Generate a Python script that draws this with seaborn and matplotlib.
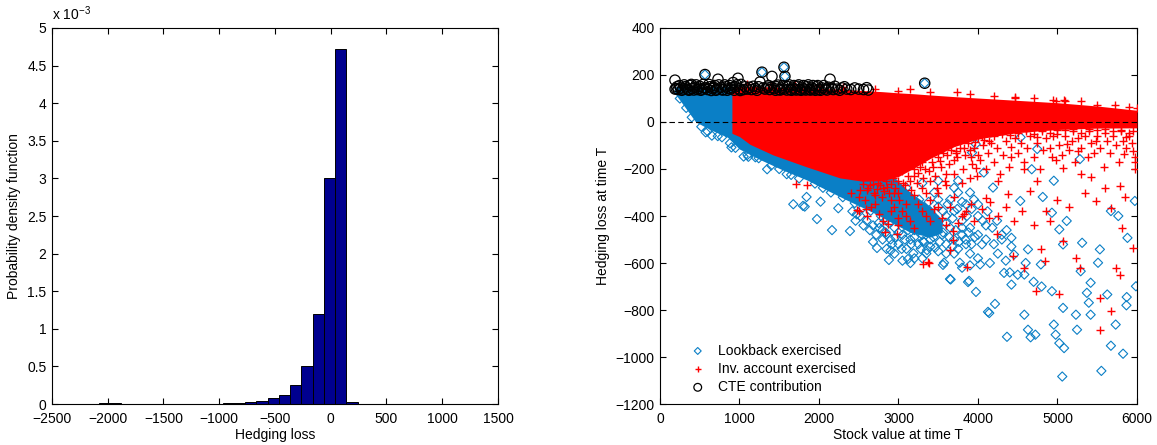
import numpy as np
import matplotlib
matplotlib.use("Agg")
import matplotlib.pyplot as plt
import seaborn as sns
from matplotlib.ticker import FuncFormatter, MultipleLocator

# ---------------- left panel: hedging loss histogram ----------------
bin_edges = [-2081, -1980, -1879, -1778, -1677, -1576, -1475, -1374, -1273,
             -1172, -1071, -970, -869, -768, -667, -566, -465, -364, -263,
             -162, -61, 40, 141, 242, 343, 444, 545, 646, 747, 848, 949,
             1050, 1151, 1252, 1353]
# density per bin, in units of 1e-3
density_e3 = [0.010, 0.010, 0.002, 0.002, 0.006, 0.006, 0.006, 0.006, 0.006,
              0.006, 0.006, 0.008, 0.010, 0.030, 0.044, 0.080, 0.124, 0.257,
              0.506, 1.198, 3.010, 4.727, 0.030, 0.005, 0.004, 0.004, 0.003,
              0.003, 0.003, 0.002, 0.002, 0.002, 0.002, 0.002]

# ---------------- right panel: hedging loss vs stock value ----------------
# dense core of the lookback-exercised paths (lower / upper envelope)
lookback_band_x = [180, 300, 450, 650, 850, 1000, 1260, 1550, 1850, 2100,
                   2350, 2680, 2900, 3150, 3400, 3550]
lookback_band_lo = [125, 70, 0, -35, -65, -115, -160, -205, -247, -290,
                    -332, -385, -425, -470, -490, -470]
lookback_band_hi = [150, 152, 152, 152, 152, 150, 140, 120, 80, 20,
                    -60, -150, -220, -300, -360, -420]

# dense core of the investment-account-exercised paths
invacct_band_x = [905, 1000, 1132, 1422, 1837, 2264, 2550, 2800, 3000, 3200,
                  3400, 3700, 4000, 4500, 5000, 5500, 6000]
invacct_band_lo = [-48, -62, -95, -140, -190, -238, -252, -250, -232, -195,
                   -155, -105, -72, -45, -32, -26, -25]
invacct_band_hi = [150, 152, 152, 149, 145, 140, 134, 129, 124, 120,
                   115, 108, 102, 92, 82, 68, 50]

# individual lookback-exercised paths outside the dense core
lookback_pts = [
    (250, 100), (330, 60), (400, 20), (520, -20), (575, -44), (600, -40),
    (653, -58), (727, -60), (780, -65), (880, -90), (899, -108), (950, -110),
    (1052, -147), (1100, -140), (1112, -148), (1200, -150), (1242, -154),
    (1348, -201), (1400, -185), (1500, -200), (1594, -222), (1650, -225),
    (1677, -350), (1750, -240), (1799, -357), (1821, -360), (1844, -319),
    (1950, -262), (1975, -413), (2020, -339), (2050, -280), (2150, -300),
    (2164, -460), (2243, -367), (2300, -320), (2390, -464), (2450, -345),
    (2475, -393), (2550, -365), (2650, -378), (2680, -510), (2730, -536),
    (2780, -400), (2850, -415), (2880, -587), (2901, -547), (3120, -583),
    (3188, -559), (3308, -507), (3359, -545), (3461, -535), (3560, -608),
    (3573, -599), (3648, -668), (3656, -670), (3772, -599), (3875, -681),
    (3888, -676), (3975, -723), (4027, -606), (4050, -521), (4126, -808),
    (4142, -813), (4214, -774), (4328, -642), (4365, -914), (4421, -692),
    (4453, -564), (4421, -493), (4583, -649), (4583, -820), (4629, -884),
    (4662, -916), (4722, -905), (4629, -542), (4791, -606), (4930, -720),
    (4954, -862), (4977, -905), (5023, -941), (5060, -1083), (5083, -962),
    (5070, -791), (5023, -457), (5070, -521), (4954, -250), (5116, -421),
    (5232, -820), (5246, -884), (5292, -635), (5310, -514), (5370, -727),
    (5394, -769), (5417, -820), (5417, -684), (5510, -599), (5552, -1059),
    (5533, -542), (5626, -734), (5672, -952), (5732, -862), (5765, -400),
    (5825, -986), (5871, -745), (5867, -780), (5987, -699), (5973, -336),
    (5880, -493), (4815, -319), (4930, -386), (4532, -336), (4073, -215),
    (4189, -279), (3926, -130), (3972, -94), (4161, -44), (4745, -115),
    (4676, -201), (4536, -65), (5282, -158), (5672, -379),
    (2750, -430), (2800, -460), (2850, -480), (2900, -500), (2950, -450),
    (3000, -520), (3050, -480), (3100, -540), (3150, -500), (3200, -460),
    (3250, -520), (3300, -480), (3350, -440), (3400, -500), (3450, -460),
    (3500, -420), (3550, -480), (3600, -520), (3650, -450), (3700, -500),
    (3750, -540), (3800, -480), (3850, -520), (3900, -560), (3000, -400),
    (3100, -430), (3200, -400), (3300, -420), (3400, -380), (3500, -360),
    (3600, -400), (3700, -380), (3800, -420), (3900, -450), (4000, -480),
    (4100, -500), (4200, -520), (4300, -480), (4000, -400), (4100, -440),
    (3650, -330), (3750, -300), (3850, -350), (3950, -330), (2950, -560),
    (3050, -590), (3200, -580), (3350, -560), (3500, -550), (3600, -560),
    (3700, -560), (3800, -620), (3900, -610), (4000, -580), (4150, -600),
    (4250, -560), (4350, -590), (4400, -640), (4500, -650), (4600, -600),
    (4700, -680), (4800, -700), (2850, -540), (3150, -600), (3300, -580),
    (2420, -380), (2460, -420), (2520, -400), (2560, -440), (2600, -420),
    (2640, -460), (2680, -440), (2720, -480), (2760, -450), (2800, -500),
    (2840, -470), (2880, -430), (2920, -520), (2960, -490), (3000, -470),
    (3040, -540), (3080, -500), (3120, -460), (3160, -520), (3200, -490),
    (3240, -440), (3280, -540), (3320, -510), (3360, -470), (3400, -530),
    (3440, -490), (3480, -450), (3520, -510), (3560, -470), (3600, -430),
    (3640, -490), (3680, -530), (3720, -460), (3760, -510), (3800, -450),
    (3840, -500), (3880, -470), (3920, -520), (3960, -490),
    (2900, -380), (2960, -410), (3020, -360), (3080, -390), (3140, -350),
    (3200, -380), (3260, -330), (3320, -370), (3380, -340), (3440, -400),
    (3500, -330), (3560, -380), (3620, -350), (3680, -410), (3740, -370),
    (3800, -340), (3860, -400), (3920, -370), (4000, -350), (4060, -420),
    (4120, -380), (4180, -450), (4240, -420), (4300, -500), (4360, -460),
    (4420, -530), (3100, -280), (3300, -260), (3500, -250), (3700, -280),
    (3900, -300), (3150, -320), (3450, -300), (3750, -250),
    (566, 202), (1283, 212), (1560, 233), (1572, 194), (3330, 165),
]

# individual investment-account-exercised paths outside the dense core
invacct_pts = [
    (1710, -265), (1849, -268), (2478, -374), (2590, -372), (2830, -468),
    (2869, -436), (2984, -478), (2994, -409), (3308, -606), (3371, -596),
    (3378, -599), (3648, -545), (3686, -502), (3689, -464), (3819, -393),
    (3862, -617), (3912, -350), (4096, -322), (4142, -407), (4235, -478),
    (4443, -571), (4583, -620), (4736, -720), (4791, -542), (4837, -592),
    (4907, -421), (5070, -507), (5023, -734), (5232, -578), (5282, -620),
    (5533, -749), (5533, -884), (5672, -806), (5742, -620), (5788, -649),
    (5811, -450), (5950, -535), (5973, -201), (5973, -172), (5834, -137),
    (5950, -122), (5788, -272), (5672, -364), (5487, -336), (5417, -236),
    (5301, -222), (5070, -194), (4930, -151), (4745, -250), (4583, -201),
    (4653, -293), (4374, -307), (4258, -250), (3981, -194), (3912, -151),
    (3726, -122), (4421, -108), (5116, -94), (5487, -80), (5857, -65),
    (4745, -65), (4142, -80), (5255, -122),
    (2400, -300), (2500, -320), (2600, -290), (2700, -310), (2800, -280),
    (2900, -330), (3000, -300), (3100, -350), (3200, -310), (3300, -280),
    (3400, -330), (3500, -300), (3600, -270), (3700, -320), (2700, -350),
    (2900, -380), (3100, -400), (3300, -380), (3500, -360), (3000, -250),
    (3200, -230), (3400, -250), (3600, -220), (3800, -260), (3900, -240),
    (2900, -200), (3100, -180), (3300, -170), (3500, -150), (3700, -160),
    (3900, -120), (4000, -140), (3050, -130), (3250, -110), (3450, -90),
    (3650, -80), (3850, -70), (4050, -60), (4300, -50), (4600, -40),
    (4900, -45), (5200, -40), (5500, -35), (5800, -40), (3400, -420),
    (3600, -440), (3800, -400), (3200, -450), (3000, -440), (2800, -420),
    (2600, -400), (2500, -380),
    (2520, -290), (2580, -330), (2640, -270), (2690, -300), (2740, -260),
    (2790, -320), (2840, -250), (2880, -300), (2930, -240), (2960, -280),
    (3010, -330), (3040, -210), (3080, -270), (3120, -230), (3160, -290),
    (3190, -200), (3230, -260), (3270, -190), (3310, -240), (3350, -300),
    (3380, -210), (3420, -170), (3460, -230), (3490, -280), (3530, -190),
    (3560, -130), (3590, -250), (3630, -180), (3660, -120), (3700, -220),
    (3740, -150), (3770, -110), (3810, -200), (3840, -140), (3880, -90),
    (3920, -180), (3950, -110), (3990, -230), (4030, -160), (4060, -100),
    (4100, -200), (4130, -130), (4170, -90), (4200, -170), (4240, -110),
    (4280, -220), (4310, -140), (4350, -80), (4390, -190), (4420, -150),
    (4460, -70), (4500, -130), (4540, -90), (4580, -170), (4620, -110),
    (4660, -60), (4700, -150), (4740, -90), (4780, -200), (4820, -120),
    (4860, -70), (4900, -110), (4940, -60), (4980, -160), (5020, -100),
    (5060, -140), (5100, -60), (5140, -120), (5180, -80), (5220, -170),
    (5260, -70), (5300, -110), (5340, -60), (5380, -150), (5420, -90),
    (5460, -130), (5500, -60), (5540, -110), (5580, -190), (5620, -80),
    (5660, -130), (5700, -60), (5740, -100), (5780, -170), (5820, -80),
    (5860, -110), (5900, -60), (5940, -90), (5980, -150),
    (3000, -60), (3100, -50), (3200, -40), (3300, -70), (3400, -50),
    (3500, -40), (3600, -90), (3700, -60), (3800, -30), (3900, -50),
    (4000, -70), (4100, -45), (4200, -60), (4300, -40), (4400, -55),
    (4500, -45), (4700, -50), (4800, -40), (5000, -50), (5100, -35),
    (5300, -45), (5400, -40), (5600, -45), (5700, -40), (5900, -45),
    (2650, -360), (2750, -390), (2950, -360), (3050, -380), (3150, -420),
    (3250, -350), (3350, -400), (3450, -370), (3550, -410), (3650, -360),
    (3750, -430), (3850, -380), (3950, -420), (4050, -370), (4150, -340),
    (4250, -400), (4350, -360), (4450, -420), (4550, -380), (4700, -440),
    (4850, -380), (5000, -330), (5150, -360), (5350, -300), (5600, -280),
    (5850, -320),
    (2560, -265), (2620, -280), (2680, -262), (2730, -285), (2770, -270),
    (2820, -295), (2860, -275), (2910, -265), (2950, -300), (3060, -260),
    (3140, -250), (3250, -215), (3330, -200), (3440, -190), (3520, -165),
    (3610, -140), (3720, -130), (3820, -110), (3960, -85), (4080, -75),
    (3600, -50), (3800, -45), (4000, -40), (4200, -35), (4400, -30),
    (4600, -30), (4800, -30), (5000, -35), (5200, -30), (5400, -30),
    (5600, -30), (5800, -35), (5950, -40),
    (1100, 160), (1400, 158), (1700, 156), (2000, 152), (2300, 150),
    (2700, 140), (2994, 132), (3150, 140), (3400, 128), (3736, 128),
    (3900, 120), (4200, 112), (4466, 106), (4700, 104), (4944, 94),
    (5083, 94), (5300, 88), (5497, 72), (5724, 72), (5900, 62), (6000, 58),
    (4977, 91), (5097, 91), (4468, 102),
]

# paths contributing to the conditional tail expectation
cte_pts = [
    (190, 140), (189, 178), (215, 150), (230, 138), (260, 145), (290, 140),
    (320, 150), (350, 138), (380, 155), (410, 142), (440, 148), (470, 138),
    (500, 152), (530, 140), (560, 145), (566, 202), (600, 138), (630, 150),
    (660, 142), (690, 155), (720, 140), (730, 182), (770, 148), (800, 138),
    (830, 150), (860, 142), (890, 140), (920, 168), (950, 150), (981, 186),
    (1000, 140), (1020, 160), (1050, 138), (1100, 140), (1150, 138),
    (1200, 142), (1240, 150), (1258, 170), (1283, 212), (1320, 140),
    (1350, 148), (1380, 138), (1409, 194), (1440, 142), (1470, 150),
    (1500, 138), (1530, 145), (1560, 140), (1572, 194), (1560, 233),
    (1610, 150), (1640, 138), (1670, 145), (1700, 140), (1730, 152),
    (1760, 138), (1790, 145), (1820, 140), (1850, 150), (1880, 138),
    (1910, 145), (1940, 140), (1970, 150), (2000, 138), (2040, 145),
    (2080, 140), (2120, 148), (2139, 182), (2180, 138), (2230, 140),
    (2290, 145), (2320, 150), (2400, 138), (2500, 140), (2560, 138),
    (2620, 136), (3330, 165),
    (205, 142), (245, 155), (275, 135), (305, 158), (335, 144), (365, 135),
    (395, 160), (425, 136), (455, 158), (485, 144), (515, 135), (545, 160),
    (585, 145), (615, 160), (645, 134), (675, 148), (705, 135), (740, 158),
    (785, 136), (815, 158), (845, 135), (875, 155), (905, 146), (935, 135),
    (965, 158), (1010, 134), (1070, 150), (1125, 148), (1175, 152),
    (1220, 135), (1300, 145), (1365, 155), (1395, 146), (1455, 135),
    (1485, 157), (1515, 136), (1545, 155), (1595, 136), (1625, 158),
    (1655, 135), (1685, 155), (1715, 136), (1745, 158), (1775, 135),
    (1805, 155), (1835, 136), (1865, 158), (1895, 136), (1925, 155),
    (1955, 135), (1985, 155), (2020, 135), (2060, 155), (2100, 136),
    (2160, 145), (2200, 152), (2260, 135), (2350, 140), (2450, 145),
    (2600, 146),
]

BLUE = "#0a7fc6"
RED = "#ff0000"
NAVY = "#00008f"

sns.set_theme(style="white")
plt.rcParams.update({
    "font.family": ["Liberation Sans", "DejaVu Sans"],
    "mathtext.default": "regular",
    "font.size": 10,
    "axes.edgecolor": "black",
    "axes.linewidth": 0.8,
    "axes.labelcolor": "black",
    "text.color": "black",
    "xtick.color": "black",
    "ytick.color": "black",
    "xtick.labelsize": 10,
    "ytick.labelsize": 10,
    "axes.labelsize": 10,
    "xtick.direction": "in",
    "ytick.direction": "in",
    "xtick.bottom": True,
    "ytick.left": True,
    "xtick.top": True,
    "ytick.right": True,
    "xtick.major.size": 4,
    "ytick.major.size": 4,
    "xtick.major.width": 0.8,
    "ytick.major.width": 0.8,
    "xtick.major.pad": 6,
    "ytick.major.pad": 4,
})

fig = plt.figure(figsize=(11.57, 4.45), dpi=100)
ax1 = fig.add_axes([0.0449, 0.0921, 0.3855, 0.845])
ax2 = fig.add_axes([0.5704, 0.0921, 0.4123, 0.845])

# ---- histogram ----
centers = [(a + b) / 2 for a, b in zip(bin_edges[:-1], bin_edges[1:])]
sns.histplot(x=centers, weights=np.array(density_e3) * 1e-3, bins=bin_edges,
             stat="count", color=NAVY, edgecolor="black", linewidth=0.7,
             alpha=1.0, ax=ax1)
ax1.set_xlim(-2500, 1500)
ax1.set_ylim(0, 5e-3)
ax1.xaxis.set_major_locator(MultipleLocator(500))
ax1.yaxis.set_major_locator(MultipleLocator(0.5e-3))
ax1.yaxis.set_major_formatter(FuncFormatter(lambda v, p: f"{v * 1e3:g}"))
ax1.set_xlabel("Hedging loss", labelpad=1)
ax1.set_ylabel("Probability density function", labelpad=4)
ax1.text(0.0, 1.012, "x 10$^{-3}$", transform=ax1.transAxes,
         ha="left", va="bottom", fontsize=10)

# ---- scatter ----
lb_x, lb_y = zip(*lookback_pts)
ia_x, ia_y = zip(*invacct_pts)
ct_x, ct_y = zip(*cte_pts)

ax2.fill_between(lookback_band_x, lookback_band_lo, lookback_band_hi,
                 color=BLUE, lw=0, zorder=1)
sns.scatterplot(x=list(lb_x), y=list(lb_y), marker="D", s=22, color=BLUE,
                facecolors="none", edgecolor=BLUE, linewidth=0.8,
                ax=ax2, label="Lookback exercised", zorder=2)
ax2.fill_between(invacct_band_x, invacct_band_lo, invacct_band_hi,
                 color=RED, lw=0, zorder=3)
sns.scatterplot(x=list(ia_x), y=list(ia_y), marker="+", s=40, color=RED,
                linewidth=1.0, ax=ax2, label="Inv. account exercised",
                zorder=4)
ax2.axhline(0, color="black", lw=0.8, ls=(0, (5, 3)), zorder=5)
sns.scatterplot(x=list(ct_x), y=list(ct_y), marker="o", s=55, color="black",
                facecolors="none", edgecolor="black", linewidth=0.9,
                ax=ax2, label="CTE contribution", zorder=6)

ax2.set_xlim(0, 6000)
ax2.set_ylim(-1200, 400)
ax2.xaxis.set_major_locator(MultipleLocator(1000))
ax2.yaxis.set_major_locator(MultipleLocator(200))
ax2.set_xlabel("Stock value at time T", labelpad=1)
ax2.set_ylabel("Hedging loss at time T", labelpad=4)
ax2.legend(loc="lower left", bbox_to_anchor=(0.053, 0.012), borderaxespad=0,
           frameon=False, handlelength=1.0, handletextpad=0.95,
           labelspacing=0.3, fontsize=10, markerscale=0.75)

for ax in (ax1, ax2):
    for sp in ax.spines.values():
        sp.set_visible(True)
        sp.set_color("black")
        sp.set_linewidth(0.8)

fig.savefig("out.png", dpi=100)
